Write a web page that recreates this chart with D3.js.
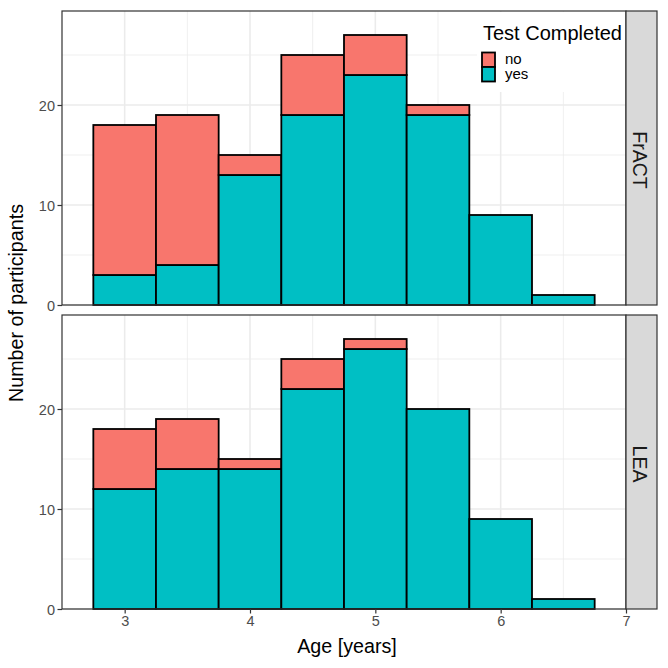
<!DOCTYPE html>
<html><head><meta charset="utf-8">
<script src="https://cdn.jsdelivr.net/npm/d3@7"></script>
<style>body{margin:0;background:#fff}svg{display:block}text{font-family:"Liberation Sans",Arial,sans-serif}</style>
</head><body>
<script>
const binCenters = [3, 3.5, 4, 4.5, 5, 5.5, 6, 6.5];
const binWidth = 0.5;
const panels = ["FrACT", "LEA"];
const fractYes = [3, 4, 13, 19, 23, 19, 9, 1];
const fractNo  = [15, 15, 2, 6, 4, 1, 0, 0];
const leaYes   = [12, 14, 14, 22, 26, 20, 9, 1];
const leaNo    = [6, 5, 1, 3, 1, 0, 0, 0];
const groups = ["no", "yes"];
const colors = ["#F8766D", "#00BFC4"];
const xTicks = [3, 4, 5, 6, 7];
const yTicks = [0, 10, 20];

const W = 668, H = 668;
const L = 62, R = 626, stripW = 31;
const panelTops = [11, 315], panelH = 294;
const FONT = "Liberation Sans, Arial, sans-serif";

const svg = d3.select("body").append("svg").attr("width", W).attr("height", H);
const x = d3.scaleLinear().domain([2.5, 7.0]).range([L, R]);

const dataSets = [[fractYes, fractNo], [leaYes, leaNo]];

panels.forEach((p, pi) => {
  const top = panelTops[pi], bot = top + panelH;
  const y = d3.scaleLinear().domain([0, 29.4]).range([bot, top]);
  const g = svg.append("g");
  g.append("rect").attr("x", L).attr("y", top).attr("width", R - L).attr("height", panelH).attr("fill", "#fff");
  [3.5, 4.5, 5.5, 6.5].forEach(v => {
    g.append("line").attr("x1", x(v)).attr("x2", x(v)).attr("y1", top).attr("y2", bot).attr("stroke", "#EBEBEB").attr("stroke-width", 0.8);
  });
  [5, 15, 25].forEach(v => {
    g.append("line").attr("x1", L).attr("x2", R).attr("y1", y(v)).attr("y2", y(v)).attr("stroke", "#EBEBEB").attr("stroke-width", 0.8);
  });
  xTicks.forEach(v => {
    g.append("line").attr("x1", x(v)).attr("x2", x(v)).attr("y1", top).attr("y2", bot).attr("stroke", "#EBEBEB").attr("stroke-width", 1.6);
  });
  yTicks.forEach(v => {
    g.append("line").attr("x1", L).attr("x2", R).attr("y1", y(v)).attr("y2", y(v)).attr("stroke", "#EBEBEB").attr("stroke-width", 1.6);
  });
  const [yes, no] = dataSets[pi];
  binCenters.forEach((c, i) => {
    const x0 = x(c - binWidth / 2), x1 = x(c + binWidth / 2);
    g.append("rect").attr("x", x0).attr("width", x1 - x0)
      .attr("y", y(yes[i])).attr("height", y(0) - y(yes[i]))
      .attr("fill", colors[1]).attr("stroke", "#000").attr("stroke-width", 1.8);
    if (no[i] > 0) {
      g.append("rect").attr("x", x0).attr("width", x1 - x0)
        .attr("y", y(yes[i] + no[i])).attr("height", y(yes[i]) - y(yes[i] + no[i]))
        .attr("fill", colors[0]).attr("stroke", "#000").attr("stroke-width", 1.8);
    }
  });
  if (pi === 0) {
    const lg = svg.append("g");
    lg.append("rect").attr("x", 477).attr("y", 12).attr("width", 148).attr("height", 80).attr("fill", "#fff");
    lg.append("text").attr("x", 483).attr("y", 40).attr("font-size", 20).attr("fill", "#000").text("Test Completed");
    groups.forEach((gname, k) => {
      const ky = 52.5 + k * 14.5;
      lg.append("rect").attr("x", 482).attr("y", ky).attr("width", 13).attr("height", 14.5)
        .attr("fill", colors[k]).attr("stroke", "#000").attr("stroke-width", 1.8);
      lg.append("text").attr("x", 505).attr("y", ky + 11.5).attr("font-size", 15).attr("fill", "#000").text(gname);
    });
  }
  g.append("rect").attr("x", L).attr("y", top).attr("width", R - L).attr("height", panelH)
    .attr("fill", "none").attr("stroke", "#333333").attr("stroke-width", 1.2);
  g.append("rect").attr("x", R).attr("y", top).attr("width", stripW).attr("height", panelH)
    .attr("fill", "#D9D9D9").attr("stroke", "#333333").attr("stroke-width", 1.2);
  g.append("text").attr("transform", `translate(${R + 7},${top + panelH / 2 + 2}) rotate(90)`)
    .attr("text-anchor", "middle").attr("font-size", 19.5).attr("fill", "#1A1A1A").text(p);
  const ya = d3.axisLeft(y).tickValues(yTicks).tickSize(4.5).tickPadding(2.5);
  const yg = g.append("g").attr("transform", `translate(${L},0)`).call(ya);
  yg.select(".domain").remove();
  yg.selectAll("line").attr("stroke", "#333333").attr("stroke-width", 1.2);
  yg.selectAll("text").attr("font-size", 14.5).attr("fill", "#4D4D4D").attr("font-family", FONT).attr("dy", "0.36em");
  if (pi === 1) {
    const xa = d3.axisBottom(x).tickValues(xTicks).tickSize(4.5).tickPadding(2.5).tickFormat(d3.format("d"));
    const xg = g.append("g").attr("transform", `translate(0,${bot})`).call(xa);
    xg.select(".domain").remove();
    xg.selectAll("line").attr("stroke", "#333333").attr("stroke-width", 1.2);
    xg.selectAll("text").attr("font-size", 14.5).attr("fill", "#4D4D4D").attr("font-family", FONT);
  }
});

svg.append("text").attr("x", 347).attr("y", 653).attr("text-anchor", "middle")
  .attr("font-size", 19.7).attr("fill", "#000").text("Age [years]");
svg.append("text").attr("transform", `translate(23,303) rotate(-90)`)
  .attr("text-anchor", "middle").attr("font-size", 19.7).attr("fill", "#000").text("Number of participants");
</script>
</body></html>
